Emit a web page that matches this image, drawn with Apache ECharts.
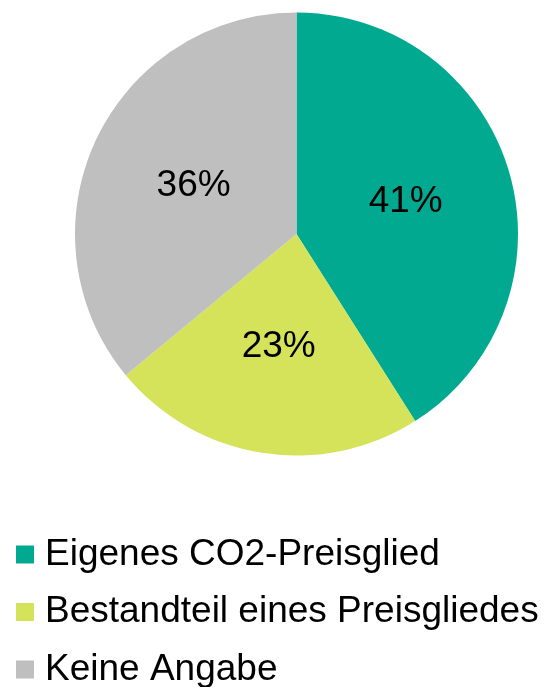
<!DOCTYPE html>
<html>
<head>
<meta charset="utf-8">
<script src="https://cdn.jsdelivr.net/npm/echarts@6/dist/echarts.min.js"></script>
<style>
html,body{margin:0;padding:0;background:#fff;}
#chart{width:548px;height:687px;}
</style>
</head>
<body>
<div id="chart"></div>
<script>
var categories = ['Eigenes CO2-Preisglied', 'Bestandteil eines Preisgliedes', 'Keine Angabe'];
var values = [41, 23, 36];
var colors = ['#00A98F', '#D4E35A', '#BFBFBF'];

var chart = echarts.init(document.getElementById('chart'), null, {renderer: 'canvas'});
var data = categories.map(function (c, i) {
  return {name: c, value: values[i], itemStyle: {color: colors[i]}};
});
chart.setOption({
  animation: false,
  legend: {
    orient: 'vertical',
    left: 16,
    top: 536,
    height: 200,
    padding: 0,
    itemWidth: 18,
    itemHeight: 18,
    itemGap: 20.5,
    itemTextGap: 11,
    icon: 'rect',
    textStyle: {
      fontFamily: 'Liberation Sans, Arial, sans-serif',
      fontSize: 37,
      lineHeight: 36,
      color: '#000',
      padding: [0, 0, 0, 6]
    },
    data: categories
  },
  series: [{
    type: 'pie',
    center: [296.5, 234],
    radius: [0, 221.5],
    startAngle: 90,
    clockwise: true,
    label: {
      show: true,
      position: 'inside',
      formatter: '{c}%',
      fontFamily: 'Liberation Sans, Arial, sans-serif',
      fontSize: 37,
      color: '#000'
    },
    labelLine: {show: false},
    emphasis: {disabled: true},
    itemStyle: {borderWidth: 0},
    data: data
  }]
});
</script>
</body>
</html>
